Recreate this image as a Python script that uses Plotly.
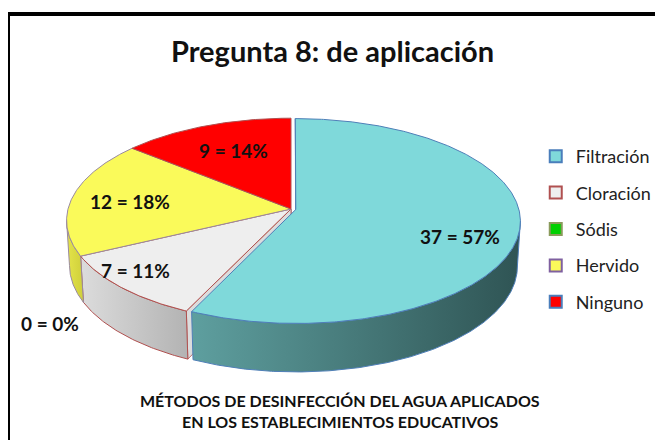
import numpy as np
import plotly.graph_objects as go

# ---------------- data ----------------
categories = ["Filtración", "Cloración", "Sódis", "Hervido", "Ninguno"]
values = [37, 7, 0, 12, 9]
title_text = "Pregunta 8: de aplicación"
subtitle_lines = ["MÉTODOS DE DESINFECCIÓN DEL AGUA APLICADOS",
                  "EN LOS ESTABLECIMIENTOS EDUCATIVOS"]

# ---------------- styles ----------------
top_colors = ["#7fd9da", "#eeeeee", "#00d000", "#fafa5a", "#ff0000"]
edge_colors = ["#4f7fb8", "#b0504f", "#8a9a5b", "#9a8aa0", "#b05050"]
legend_edges = ["#4a7ebb", "#b05050", "#8a9a5b", "#7f60a0", "#4a7ebb"]
side_grads = [("#5e9f9f", "#2f5454"), ("#dcdcdc", "#b3b3b3"), ("#00a000", "#008000"),
              ("#e4e44a", "#cfcf3a"), ("#cc0000", "#990000")]
explode = [0.022, 0, 0, 0, 0]
label_pos = [(460, 236), (135, 270), (50, 323), (130, 201), (233, 150)]
FONT = "Lato"
OFF = 8  # page offset of the plot div

# ---------------- projection (3-D pie look) ----------------
CX, CY, K = 291.0, 209.0, 223.0
SIN_A = 0.453
COS_A = np.sqrt(1 - SIN_A ** 2)
U = 0.1263
H = 0.227
CAM = np.array([0.0, SIN_A / U, -COS_A / U])


def proj(x, y, z):
    x = np.asarray(x, float); y = np.asarray(y, float); z = np.asarray(z, float)
    up = y * COS_A + z * SIN_A
    den = 1 + U * (z * COS_A - y * SIN_A)
    return CX + K * x / den, CY - K * up / den


def depth(x, y, z):
    return z * COS_A - y * SIN_A


total = sum(values)
fracs = [v / total for v in values]
cum = np.concatenate([[0], np.cumsum(fracs)]) * 2 * np.pi

fig = go.Figure()
cut_faces, sides, tops = [], [], []
vis_lim = np.arccos(-U * COS_A)  # silhouette angle

for i, v in enumerate(values):
    a0, a1 = cum[i], cum[i + 1]
    if v == 0:
        continue
    bis = (a0 + a1) / 2
    ox, oz = explode[i] * np.sin(bis), explode[i] * np.cos(bis)
    n = max(3, int(np.degrees(a1 - a0) * 2))
    ph = np.linspace(a0, a1, n)
    # top face
    xs = np.concatenate([[ox], ox + np.sin(ph), [ox]])
    zs = np.concatenate([[oz], oz + np.cos(ph), [oz]])
    X, Y = proj(xs, np.zeros_like(xs), zs)
    tops.append(go.Scatter(x=X, y=Y, fill="toself", fillcolor=top_colors[i], mode="lines",
                           line=dict(color=edge_colors[i], width=1), hoverinfo="skip",
                           showlegend=False))
    # outer side (visible part)
    lo, hi = max(a0, vis_lim), min(a1, 2 * np.pi - vis_lim)
    if hi > lo:
        ps = np.linspace(lo, hi, max(3, int(np.degrees(hi - lo) * 2)))
        xs = np.concatenate([ox + np.sin(ps), ox + np.sin(ps[::-1])])
        ys = np.concatenate([np.zeros_like(ps), -H * np.ones_like(ps)])
        zs = np.concatenate([oz + np.cos(ps), oz + np.cos(ps[::-1])])
        X, Y = proj(xs, ys, zs)
        X = np.append(X, X[0]); Y = np.append(Y, Y[0])
        sides.append(go.Scatter(x=X, y=Y, fill="toself", mode="lines",
                                fillgradient=dict(type="horizontal",
                                                  colorscale=[[0, side_grads[i][0]], [1, side_grads[i][1]]]),
                                line=dict(color=edge_colors[i], width=1), hoverinfo="skip",
                                showlegend=False))
    # radial cut faces
    for ang, sgn in ((a0, -1), (a1, 1)):
        nrm = np.array([sgn * np.cos(ang), 0, -sgn * np.sin(ang)])
        mid = np.array([ox + 0.5 * np.sin(ang), -H / 2, oz + 0.5 * np.cos(ang)])
        if np.dot(nrm, CAM - mid) <= 0:
            continue
        xs = [ox, ox + np.sin(ang), ox + np.sin(ang), ox, ox]
        ys = [0, 0, -H, -H, 0]
        zs = [oz, oz + np.cos(ang), oz + np.cos(ang), oz, oz]
        X, Y = proj(xs, ys, zs)
        cut_faces.append((depth(*mid), go.Scatter(x=X, y=Y, fill="toself", fillcolor=side_grads[i][0],
                                    mode="lines", line=dict(color=edge_colors[i], width=0.8),
                                    hoverinfo="skip", showlegend=False)))

cut_faces.sort(key=lambda t: -t[0])
for t in [c[1] for c in cut_faces] + sides + tops:
    fig.add_trace(t)

# legend entries
for i, c in enumerate(categories):
    fig.add_trace(go.Scatter(x=[None], y=[None], mode="markers", name=c, legendgroup=c,
                             marker=dict(symbol="square", size=11, color=top_colors[i],
                                         line=dict(color=legend_edges[i], width=2))))

# data labels
for i, v in enumerate(values):
    pct = round(100 * v / total)
    fig.add_annotation(x=label_pos[i][0], y=label_pos[i][1], text=f"<b>{v} = {pct}%</b>",
                       showarrow=False, font=dict(family=FONT, size=19, color="#111111"),
                       xanchor="center", yanchor="middle")

fig.add_annotation(x=332, y=50, text=f"<b>{title_text}</b>", showarrow=False,
                   font=dict(family=FONT, size=29, color="#111111"), xanchor="center", yanchor="middle")
for j, line in enumerate(subtitle_lines):
    fig.add_annotation(x=340, y=400 + 21 * j, text=f"<b>{line}</b>", showarrow=False,
                       font=dict(family=FONT, size=16, color="#111111"),
                       xanchor="center", yanchor="middle")

fig.add_shape(type="rect", x0=8, y0=14, x1=700, y1=480, line=dict(color="black", width=4),
              xref="x", yref="y", layer="above")

fig.update_layout(
    width=663, height=440, margin=dict(l=0, r=0, t=0, b=0),
    paper_bgcolor="white", plot_bgcolor="white",
    xaxis=dict(range=[OFF, 663 + OFF], visible=False, fixedrange=True),
    yaxis=dict(range=[440 + OFF, OFF], visible=False, fixedrange=True),
    legend=dict(x=0.796, y=1 - 130 / 440, yanchor="top", xanchor="left",
                font=dict(family=FONT, size=18, color="#222222"), tracegroupgap=10,
                itemsizing="constant", bgcolor="rgba(0,0,0,0)"),
    showlegend=True,
)
fig.write_html("out.html")
